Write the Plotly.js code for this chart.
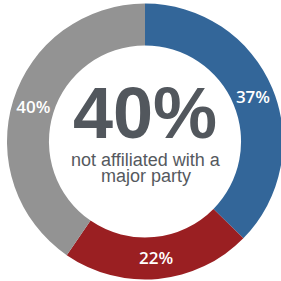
<!DOCTYPE html>
<html>
<head>
<meta charset="utf-8">
<script src="https://cdn.plot.ly/plotly-3.0.1.min.js"></script>
<style>
html,body{margin:0;padding:0;overflow:hidden;background:#fff;}
#chart{width:284px;height:281px;}
</style>
</head>
<body>
<div id="chart"></div>
<script>
const categories = ['Democrat', 'Republican', 'Not affiliated'];
const values = [37, 22, 40];
const sliceLabels = ['37%', '22%', '40%'];
const colors = ['#336699', '#9a1f22', '#939393'];
const centerValue = '40%';
const captionLines = ['not affiliated with a', 'major party'];

const W = 284, H = 281;
const trace = {
  type: 'pie',
  labels: categories,
  values: values,
  text: sliceLabels,
  textinfo: 'text',
  texttemplate: '%{text}',
  textposition: 'inside',
  insidetextorientation: 'horizontal',
  sort: false,
  direction: 'clockwise',
  rotation: 0,
  hole: 0.696,
  marker: {colors: colors, line: {width: 0}},
  textfont: {family: 'Open Sans, sans-serif', size: 17, color: '#ffffff', weight: 600},
  domain: {x: [7 / W, 283 / W], y: [1.5 / H, (H - 3.5) / H]},
  showlegend: false,
  hoverinfo: 'skip'
};

const capFont = {family: 'Liberation Sans, Arial, sans-serif', size: 18, color: '#55595e'};
const layout = {
  width: W,
  height: H,
  margin: {l: 0, r: 0, t: 0, b: 0},
  paper_bgcolor: '#ffffff',
  showlegend: false,
  annotations: [
    {text: '<b>' + centerValue + '</b>', x: 145 / W, y: (H - 113) / H, xref: 'paper', yref: 'paper',
     showarrow: false, font: {family: 'Liberation Sans, Arial, sans-serif', size: 72, color: '#52575d'},
     xanchor: 'center', yanchor: 'middle'},
    {text: captionLines[0], x: 146 / W, y: (H - 160) / H, xref: 'paper', yref: 'paper',
     showarrow: false, font: capFont, xanchor: 'center', yanchor: 'middle'},
    {text: captionLines[1], x: 146 / W, y: (H - 176) / H, xref: 'paper', yref: 'paper',
     showarrow: false, font: capFont, xanchor: 'center', yanchor: 'middle'}
  ]
};

Plotly.newPlot('chart', [trace], layout, {displayModeBar: false, staticPlot: true});
</script>
</body>
</html>
